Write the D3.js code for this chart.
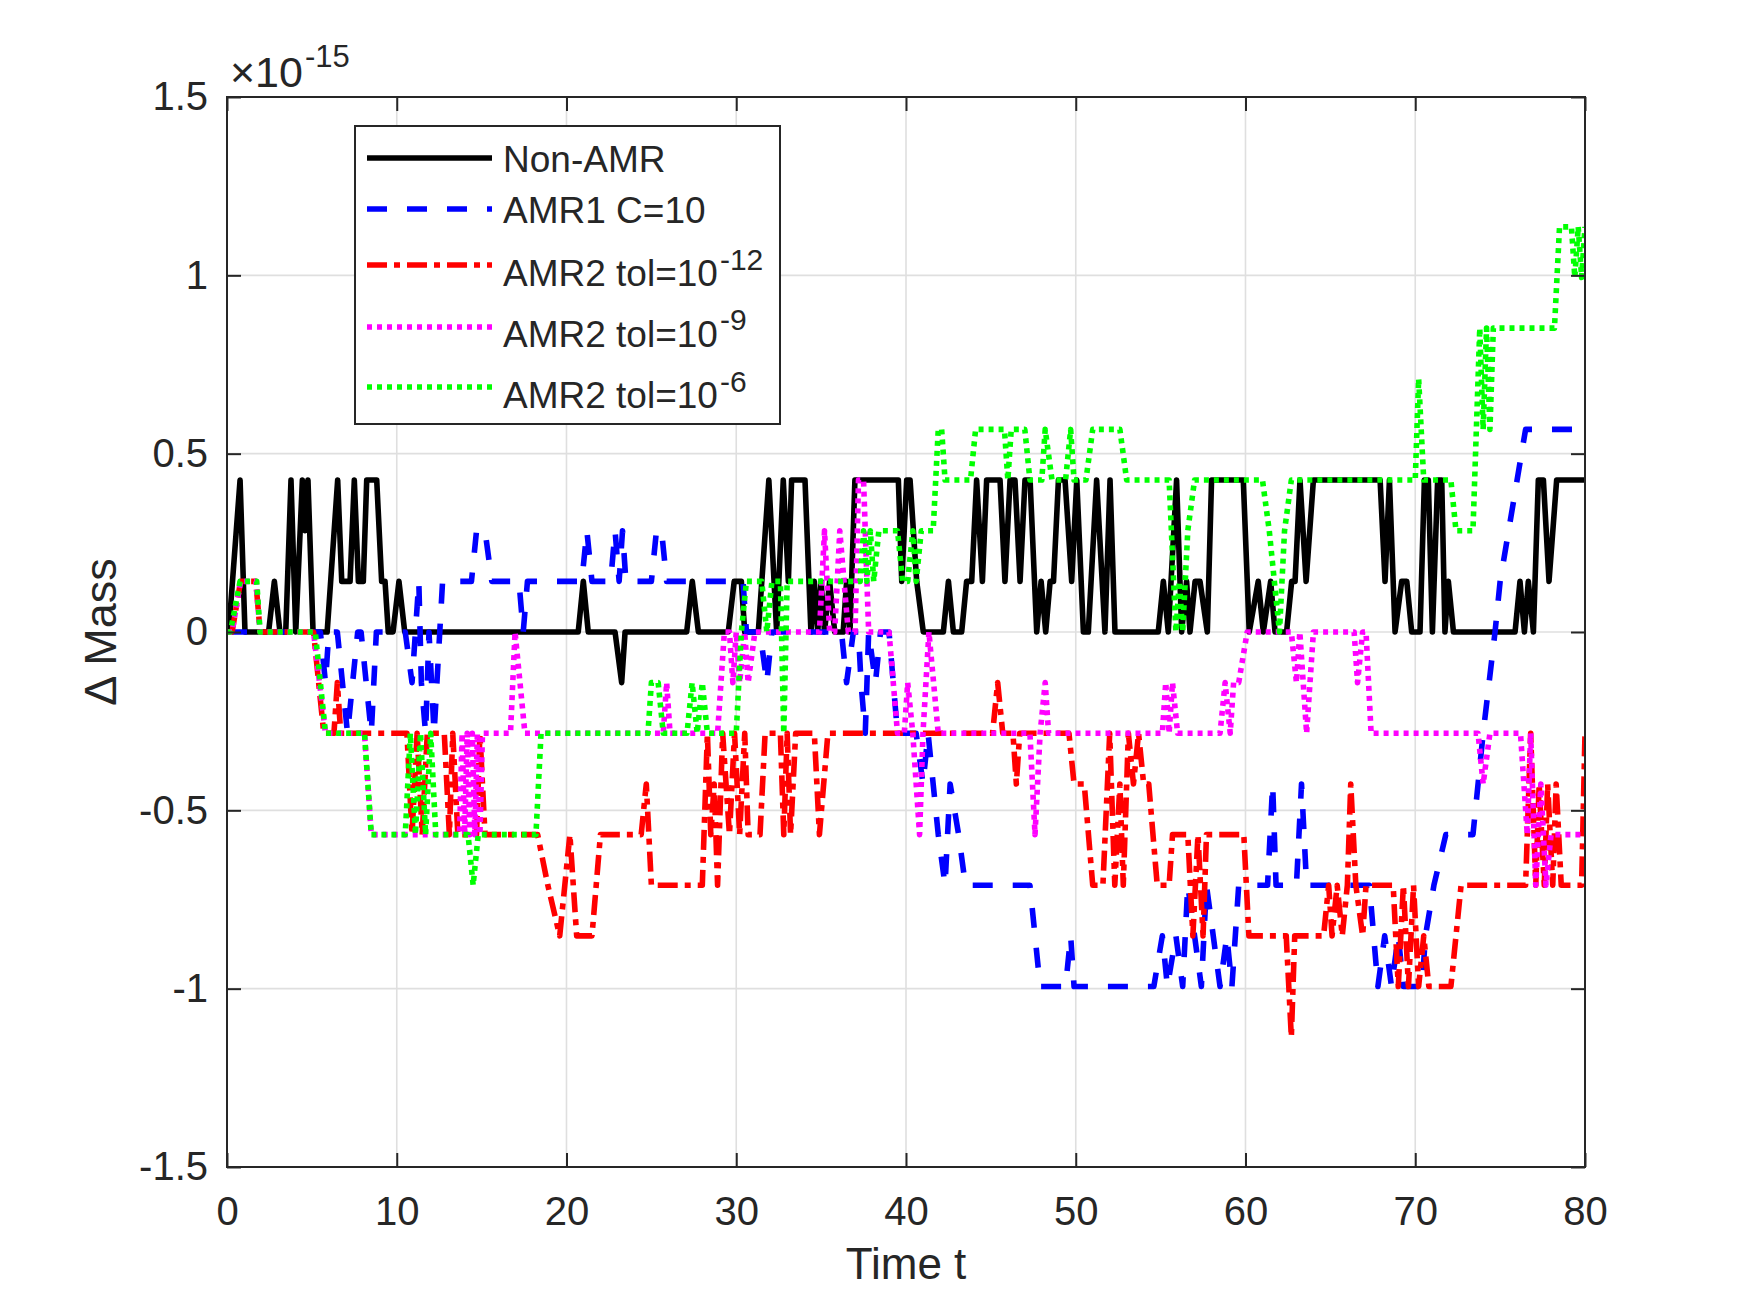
<!DOCTYPE html>
<html><head><meta charset="utf-8">
<script src="https://cdn.jsdelivr.net/npm/d3@7"></script>
<style>
body{margin:0;background:#fff;}
svg text{font-family:"Liberation Sans",Arial,Helvetica,sans-serif;fill:#262626;}
</style>
</head><body>
<svg id="chart" width="1750" height="1289"></svg>
<script>
// ---------------- data ----------------
const xTicks = [0,10,20,30,40,50,60,70,80];
const xTickLabels = ["0","10","20","30","40","50","60","70","80"];
const yTicks = [-1.5,-1,-0.5,0,0.5,1,1.5];
const yTickLabels = ["-1.5","-1","-0.5","0","0.5","1","1.5"];
const exponentBase = "\u00D710";
const exponentPower = "-15";
const xLabel = "Time t";
const yLabel = "\u0394 Mass";

const legendLabels = ["Non-AMR","AMR1 C=10","AMR2 tol=10","AMR2 tol=10","AMR2 tol=10"];
const legendSups   = ["","","-12","-9","-6"];

// values in units of 1e-15, [time, delta mass]
const nonAMR = [[0,0],[0.1,0],[0.77,0.426],[1.06,0],[2.45,0],[2.79,0.142],[3.12,0],[3.46,0],[3.77,0.426],[4.05,0],[4.44,0.426],[4.6,0.284],[4.77,0.426],[5.07,0],[5.9,0],[6.52,0.426],[6.76,0.142],[7.25,0.142],[7.5,0.426],[7.74,0.142],[8.03,0.142],[8.23,0.426],[8.82,0.426],[9.11,0.142],[9.31,0.142],[9.5,0],[9.78,0],[10.13,0.142],[10.47,0],[20.69,0],[20.99,0.142],[21.28,0],[22.86,0],[23.25,-0.142],[23.45,0],[27.08,0],[27.41,0.142],[27.77,0],[29.53,0],[29.88,0.142],[30.3,0.142],[30.5,0],[31.3,0],[31.92,0.426],[32.38,0],[32.77,0.426],[33.07,0.142],[33.26,0.426],[34.05,0.426],[34.4,0],[34.6,0.142],[34.8,0],[35.0,0.142],[35.2,0],[35.5,0.142],[35.8,0],[36.3,0],[36.5,0.142],[36.7,0],[36.99,0.426],[39.55,0.426],[39.75,0.142],[40.04,0.426],[40.24,0.426],[40.63,0.142],[41.02,0],[42.2,0],[42.5,0.142],[42.79,0],[43.28,0],[43.57,0.142],[43.87,0.142],[44.16,0.426],[44.5,0.142],[44.75,0.426],[45.54,0.426],[45.83,0.142],[46.13,0.426],[46.42,0.426],[46.72,0.142],[47.01,0.426],[47.31,0.426],[47.7,0],[47.96,0.142],[48.23,0],[48.49,0.142],[48.69,0.142],[48.98,0.426],[49.37,0.426],[49.76,0.142],[50.06,0.426],[50.45,0],[50.74,0],[51.23,0.426],[51.72,0],[52.02,0.426],[52.31,0],[54.86,0],[55.16,0.142],[55.45,0],[55.94,0.426],[56.24,0],[56.53,0.142],[56.73,0],[57.03,0.142],[57.32,0.142],[57.75,0],[58.0,0.426],[59.87,0.426],[60.22,0],[60.75,0.142],[61.05,0],[61.48,0.142],[61.74,0],[62.42,0],[62.72,0.142],[62.92,0.142],[63.21,0.426],[63.57,0.142],[64.0,0.426],[67.93,0.426],[68.22,0.142],[68.48,0.426],[68.81,0],[69.2,0.142],[69.5,0.142],[69.79,0],[70.28,0],[70.54,0.426],[70.77,0.426],[71.01,0],[71.32,0.426],[71.56,0.426],[71.75,0],[71.95,0.142],[72.25,0],[75.88,0],[76.17,0.142],[76.43,0],[76.66,0.142],[76.96,0],[77.25,0.426],[77.55,0.426],[77.88,0.142],[78.33,0.426],[80,0.426]];

const amr1 = [[0,0],[5.5,0],[5.8,-0.142],[6.0,0],[6.5,0],[7.1,-0.284],[7.7,0],[7.9,0],[8.5,-0.284],[8.8,0],[10.5,0],[10.9,-0.142],[11.3,0.142],[11.45,-0.142],[11.7,-0.284],[11.9,0],[12.2,-0.284],[12.7,0.142],[14.4,0.142],[14.7,0.284],[15.2,0.284],[15.6,0.142],[17.2,0.142],[17.45,0],[17.7,0.142],[20.9,0.142],[21.2,0.284],[21.5,0.142],[22.6,0.142],[22.86,0.284],[23.1,0.142],[23.3,0.284],[23.5,0.142],[25.0,0.142],[25.3,0.284],[25.6,0.284],[25.9,0.142],[30.4,0.142],[30.6,0],[31.4,0],[31.8,-0.142],[32.1,0],[36.2,0],[36.5,-0.142],[36.9,0],[37.2,0],[37.35,-0.142],[37.6,-0.284],[37.8,0],[38.2,-0.142],[38.5,0],[39.0,0],[39.5,-0.284],[40.6,-0.284],[41.0,-0.426],[41.3,-0.284],[41.9,-0.568],[42.3,-0.71],[42.6,-0.426],[43.1,-0.568],[43.5,-0.71],[47.3,-0.71],[47.9,-0.994],[49.4,-0.994],[49.7,-0.852],[49.9,-0.994],[54.6,-0.994],[55.1,-0.852],[55.4,-0.994],[55.9,-0.852],[56.3,-0.994],[56.6,-0.71],[57.0,-0.852],[57.4,-0.994],[57.7,-0.71],[58.1,-0.852],[58.5,-0.994],[58.9,-0.852],[59.2,-0.994],[59.6,-0.71],[61.3,-0.71],[61.6,-0.426],[61.8,-0.71],[63.0,-0.71],[63.3,-0.426],[63.6,-0.71],[67.3,-0.71],[67.8,-0.994],[68.2,-0.852],[68.6,-0.994],[69.0,-0.852],[69.3,-0.994],[70.4,-0.994],[70.6,-0.852],[71.1,-0.71],[71.8,-0.568],[73.4,-0.568],[74.0,-0.284],[74.7,0],[75.0,0.142],[76.0,0.426],[76.5,0.568],[80,0.568]];

const amr2tol12 = [[0,0],[0.3,0],[0.8,0.142],[1.7,0.142],[1.95,0],[5.1,0],[5.7,-0.284],[6.3,-0.284],[6.5,-0.142],[6.7,-0.284],[10.6,-0.284],[10.9,-0.568],[11.2,-0.284],[11.5,-0.568],[11.8,-0.284],[12.8,-0.284],[13.1,-0.568],[13.3,-0.284],[13.6,-0.568],[14.7,-0.568],[14.9,-0.284],[15.2,-0.568],[18.3,-0.568],[18.9,-0.71],[19.6,-0.852],[19.9,-0.71],[20.2,-0.568],[20.6,-0.852],[21.5,-0.852],[22.0,-0.568],[24.4,-0.568],[24.7,-0.426],[25.0,-0.71],[28.0,-0.71],[28.3,-0.284],[28.5,-0.568],[28.7,-0.426],[28.9,-0.71],[29.2,-0.284],[29.6,-0.568],[29.9,-0.284],[30.2,-0.568],[30.5,-0.284],[30.7,-0.568],[31.4,-0.568],[31.7,-0.284],[32.6,-0.284],[32.8,-0.568],[33.0,-0.284],[33.2,-0.568],[33.5,-0.284],[34.6,-0.284],[34.9,-0.568],[35.4,-0.284],[45.1,-0.284],[45.4,-0.142],[45.7,-0.284],[46.3,-0.284],[46.5,-0.426],[46.7,-0.284],[49.6,-0.284],[49.9,-0.426],[50.5,-0.426],[51.0,-0.71],[51.6,-0.71],[52.0,-0.284],[52.3,-0.71],[52.6,-0.426],[52.8,-0.71],[53.1,-0.284],[53.4,-0.426],[53.7,-0.284],[54.0,-0.426],[54.3,-0.426],[54.8,-0.71],[55.5,-0.71],[55.7,-0.568],[56.6,-0.568],[56.9,-0.852],[57.2,-0.568],[57.5,-0.852],[57.7,-0.568],[59.9,-0.568],[60.2,-0.852],[62.4,-0.852],[62.7,-1.136],[62.9,-0.852],[64.6,-0.852],[64.9,-0.71],[65.1,-0.852],[65.4,-0.71],[65.7,-0.852],[66.0,-0.71],[66.2,-0.426],[66.5,-0.71],[66.9,-0.852],[67.1,-0.71],[68.7,-0.71],[69.0,-0.994],[69.3,-0.71],[69.6,-0.994],[69.9,-0.71],[70.2,-0.994],[70.5,-0.852],[70.8,-0.994],[72.1,-0.994],[72.7,-0.71],[76.5,-0.71],[76.8,-0.284],[77.1,-0.71],[77.3,-0.426],[77.6,-0.71],[77.8,-0.426],[78.1,-0.71],[78.3,-0.426],[78.6,-0.71],[79.5,-0.71],[79.8,-0.71],[80,-0.284]];

const amr2tol9 = [[0,0],[0.3,0],[0.8,0.142],[1.7,0.142],[1.95,0],[5.1,0],[5.8,-0.284],[8.1,-0.284],[8.5,-0.568],[13.7,-0.568],[13.85,-0.284],[14.0,-0.568],[14.15,-0.284],[14.3,-0.568],[14.45,-0.284],[14.6,-0.568],[14.75,-0.284],[14.9,-0.568],[15.05,-0.284],[16.7,-0.284],[16.97,0],[17.55,-0.284],[25.7,-0.284],[25.9,-0.142],[26.1,-0.284],[28.9,-0.284],[29.3,0],[29.6,0],[29.8,-0.142],[30.0,0],[30.2,-0.142],[30.5,0],[30.7,-0.142],[31.1,0],[34.9,0],[35.2,0.284],[35.5,0],[35.8,0],[36.1,0.284],[36.6,0],[37.0,0],[37.2,0.426],[37.5,0.426],[37.8,0],[39.0,0],[39.5,-0.284],[39.9,-0.284],[40.1,-0.142],[40.4,-0.284],[40.8,-0.568],[41.0,-0.284],[41.35,0],[41.9,-0.284],[47.3,-0.284],[47.6,-0.568],[47.9,-0.284],[48.2,-0.142],[48.4,-0.284],[55.1,-0.284],[55.3,-0.142],[55.5,-0.284],[55.7,-0.142],[56.0,-0.284],[58.5,-0.284],[58.8,-0.142],[59.1,-0.284],[59.3,-0.142],[59.6,-0.142],[60.1,0],[62.7,0],[63.0,-0.142],[63.2,0],[63.6,-0.284],[64.0,0],[66.4,0],[66.6,-0.142],[66.9,0],[67.1,0],[67.4,-0.284],[73.7,-0.284],[74.0,-0.426],[74.4,-0.284],[76.2,-0.284],[76.6,-0.568],[76.8,-0.284],[77.1,-0.71],[77.4,-0.426],[77.7,-0.71],[78.0,-0.568],[80,-0.568]];

const amr2tol6 = [[0,0],[0.2,0],[0.77,0.142],[1.75,0.142],[1.95,0],[5.2,0],[5.8,-0.284],[8.1,-0.284],[8.5,-0.568],[10.5,-0.568],[10.8,-0.284],[11.1,-0.568],[11.4,-0.284],[11.7,-0.568],[12.0,-0.284],[12.3,-0.568],[14.2,-0.568],[14.5,-0.71],[14.8,-0.568],[18.2,-0.568],[18.5,-0.284],[24.8,-0.284],[25.0,-0.142],[25.4,-0.142],[25.7,-0.284],[27.1,-0.284],[27.4,-0.142],[27.7,-0.284],[28.0,-0.142],[28.3,-0.284],[30.0,-0.284],[30.3,0],[30.6,0.142],[31.5,0.142],[31.8,0],[32.1,0.142],[32.6,0.142],[32.8,-0.284],[33.0,0.142],[37.3,0.142],[37.5,0.284],[37.7,0.142],[37.9,0.284],[38.1,0.142],[38.4,0.284],[39.5,0.284],[39.8,0.142],[40.1,0.142],[40.4,0.284],[40.6,0.142],[40.9,0.284],[41.6,0.284],[41.9,0.568],[42.1,0.568],[42.3,0.426],[43.8,0.426],[44.1,0.568],[45.8,0.568],[46.0,0.426],[46.2,0.568],[47.0,0.568],[47.3,0.426],[48.0,0.426],[48.2,0.568],[48.6,0.426],[49.4,0.426],[49.7,0.568],[49.9,0.426],[50.6,0.426],[51.0,0.568],[52.6,0.568],[53.0,0.426],[55.5,0.426],[55.9,0],[56.1,0.142],[56.3,0],[56.6,0.284],[57.0,0.426],[61.0,0.426],[61.4,0.284],[61.7,0.142],[62.0,0],[62.3,0.284],[62.7,0.426],[70.0,0.426],[70.2,0.71],[70.5,0.426],[72.1,0.426],[72.4,0.284],[73.4,0.284],[73.8,0.852],[74.0,0.568],[74.2,0.852],[74.4,0.568],[74.6,0.852],[78.2,0.852],[78.5,1.136],[79.2,1.136],[79.4,0.994],[79.6,1.136],[79.8,0.994],[80,1.136]];

const seriesData = [nonAMR, amr1, amr2tol12, amr2tol9, amr2tol6];
const seriesColors = ["#000000","#0000ff","#ff0000","#ff00ff","#00ff00"];
const seriesDash = [null,"20,20","20,7,6,7","5,5","5,5"];

// ---------------- layout ----------------
const svg = d3.select("#chart");
const L = 227, R = 1585, T = 97, B = 1167;
const x = d3.scaleLinear().domain([0,80]).range([L,R]);
const y = d3.scaleLinear().domain([-1.5,1.5]).range([B,T]);
const axisColor = "#262626";
const tickFont = 40;
const lineW = 5.6;

svg.append("rect").attr("x",0).attr("y",0).attr("width",1750).attr("height",1289).attr("fill","#fff");

// grid
const grid = svg.append("g");
grid.selectAll("line.gx").data(xTicks).join("line")
  .attr("x1",d=>x(d)).attr("x2",d=>x(d)).attr("y1",T).attr("y2",B)
  .attr("stroke","#dfdfdf").attr("stroke-width",1.6);
grid.selectAll("line.gy").data(yTicks).join("line")
  .attr("x1",L).attr("x2",R).attr("y1",d=>y(d)).attr("y2",d=>y(d))
  .attr("stroke","#dfdfdf").attr("stroke-width",1.6);

// data lines
svg.append("clipPath").attr("id","clip").append("rect")
  .attr("x",L).attr("y",T).attr("width",R-L).attr("height",B-T);
const line = d3.line().x(d=>x(d[0])).y(d=>y(d[1]));
const lines = svg.append("g").attr("clip-path","url(#clip)");
seriesData.forEach((s,i)=>{
  const p = lines.append("path").attr("d",line(s)).attr("fill","none")
    .attr("stroke",seriesColors[i]).attr("stroke-width",lineW)
    .attr("stroke-linejoin","round").attr("stroke-linecap","butt");
  if (seriesDash[i]) p.attr("stroke-dasharray",seriesDash[i]);
});

// axes (ticks inward on all sides)
function styleAxis(g){
  g.select(".domain").remove();
  g.selectAll(".tick line").attr("stroke",axisColor).attr("stroke-width",2);
  g.selectAll(".tick text").attr("fill",axisColor).style("font-size",tickFont+"px")
    .style("font-family",'"Liberation Sans",Arial,sans-serif');
}
const xAxis = d3.axisBottom(x).tickValues(xTicks).tickFormat((d,i)=>xTickLabels[i])
  .tickSizeInner(-14).tickSizeOuter(0).tickPadding(30);
svg.append("g").attr("transform",`translate(0,${B})`).call(xAxis).call(styleAxis);
const xAxisTop = d3.axisTop(x).tickValues(xTicks).tickFormat("").tickSizeInner(-14).tickSizeOuter(0);
svg.append("g").attr("transform",`translate(0,${T})`).call(xAxisTop).call(styleAxis);
const yAxis = d3.axisLeft(y).tickValues(yTicks).tickFormat((d,i)=>yTickLabels[i])
  .tickSizeInner(-14).tickSizeOuter(0).tickPadding(19);
svg.append("g").attr("transform",`translate(${L},0)`).call(yAxis).call(styleAxis);
const yAxisRight = d3.axisRight(y).tickValues(yTicks).tickFormat("").tickSizeInner(-14).tickSizeOuter(0);
svg.append("g").attr("transform",`translate(${R},0)`).call(yAxisRight).call(styleAxis);

// box
svg.append("rect").attr("x",L).attr("y",T).attr("width",R-L).attr("height",B-T)
  .attr("fill","none").attr("stroke",axisColor).attr("stroke-width",2);

// exponent
const ex = svg.append("text").attr("x",230).attr("y",87).style("font-size","43px").text(exponentBase);
const exW = ex.node().getComputedTextLength();
svg.append("text").attr("x",230+exW+2).attr("y",67).style("font-size","31px").text(exponentPower);

// axis labels
svg.append("text").attr("x",(L+R)/2).attr("y",1279).attr("text-anchor","middle")
  .style("font-size","44px").text(xLabel);
svg.append("text").attr("transform",`translate(116,${(T+B)/2}) rotate(-90)`)
  .attr("text-anchor","middle").style("font-size","45px").text(yLabel);

// legend
const lg = svg.append("g");
lg.append("rect").attr("x",355).attr("y",126).attr("width",425).attr("height",298)
  .attr("fill","#fff").attr("stroke",axisColor).attr("stroke-width",2);
const rowLineY = [158,209,265,327,387];
const rowTextY = [172,223,286,347,408];
const rowSupY  = [0,0,270,330,392];
legendLabels.forEach((lab,i)=>{
  const l = lg.append("line").attr("x1",367).attr("x2",492)
    .attr("y1",rowLineY[i]).attr("y2",rowLineY[i])
    .attr("stroke",seriesColors[i]).attr("stroke-width",lineW).attr("stroke-linecap","butt");
  if (seriesDash[i]) l.attr("stroke-dasharray",seriesDash[i]);
  const t = lg.append("text").attr("x",503).attr("y",rowTextY[i]).style("font-size","37px").text(lab);
  if (legendSups[i]) {
    const w = t.node().getComputedTextLength();
    lg.append("text").attr("x",503+w+2).attr("y",rowSupY[i]).style("font-size","30px").text(legendSups[i]);
  }
});
</script>
</body></html>
